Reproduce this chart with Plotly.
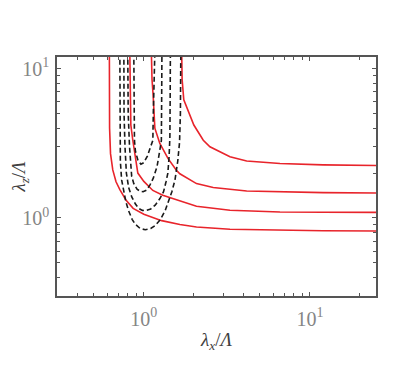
import plotly.graph_objects as go

# Courbes rouges (traits pleins)
red1_x = [0.62, 0.622, 0.63, 0.65, 0.68, 0.717, 0.78, 0.862, 1.0, 1.138, 1.28, 1.648, 2.075, 3.3, 6.6, 12.0, 25.0]
red1_y = [13.0, 4.0, 2.7, 2.1, 1.75, 1.55, 1.32, 1.16, 1.06, 1.0, 0.96, 0.905, 0.87, 0.84, 0.827, 0.822, 0.818]

red2_x = [0.823, 0.826, 0.835, 0.858, 0.89, 0.92, 1.0, 1.133, 1.3, 1.62, 2.075, 3.3, 6.6, 12.0, 25.0]
red2_y = [13.0, 6.0, 4.2, 3.32, 2.45, 2.0, 1.76, 1.53, 1.42, 1.31, 1.2, 1.126, 1.097, 1.093, 1.09]

red3_x = [1.11, 1.12, 1.138, 1.165, 1.248, 1.4, 1.57, 1.648, 2.075, 2.616, 4.16, 6.6, 12.0, 25.0]
red3_y = [13.0, 8.5, 6.6, 4.0, 3.16, 2.5, 2.09, 1.98, 1.7, 1.6, 1.517, 1.494, 1.48, 1.47]

red4_x = [1.69, 1.7, 1.74, 2.0, 2.28, 2.5, 3.3, 4.16, 6.6, 12.0, 25.0]
red4_y = [13.0, 8.5, 6.2, 4.2, 3.32, 3.0, 2.57, 2.41, 2.32, 2.27, 2.25]

# Courbes noires (tirets)
dash1_x = [0.717, 0.718, 0.722, 0.735, 0.755, 0.78, 0.809, 0.85, 0.886, 0.95, 1.02, 1.1, 1.17, 1.26, 1.344, 1.42, 1.475, 1.54, 1.6, 1.64, 1.66, 1.67]
dash1_y = [13.0, 4.0, 2.4, 1.8, 1.5, 1.28, 1.12, 0.98, 0.91, 0.85, 0.835, 0.85, 0.89, 0.98, 1.12, 1.33, 1.5, 1.8, 2.4, 3.2, 5.0, 13.0]

dash2_x = [0.758, 0.76, 0.77, 0.785, 0.81, 0.847, 0.89, 0.93, 0.98, 1.02, 1.1, 1.17, 1.25, 1.314, 1.36, 1.395, 1.42, 1.435, 1.44, 1.445]
dash2_y = [13.0, 5.0, 3.0, 2.0, 1.6, 1.38, 1.24, 1.16, 1.125, 1.12, 1.15, 1.22, 1.35, 1.5, 1.75, 2.0, 2.6, 3.5, 6.0, 13.0]

dash3_x = [0.80, 0.805, 0.82, 0.835, 0.845, 0.87, 0.91, 0.95, 0.99, 1.04, 1.087, 1.14, 1.2, 1.245, 1.275, 1.28, 1.285]
dash3_y = [13.0, 5.0, 3.0, 2.3, 1.9, 1.7, 1.56, 1.51, 1.5, 1.54, 1.66, 1.85, 2.2, 2.8, 3.3, 6.0, 13.0]

dash4_x = [0.87, 0.872, 0.878, 0.89, 0.92, 0.96, 1.0, 1.05, 1.1, 1.133, 1.14, 1.165]
dash4_y = [13.0, 5.0, 3.3, 2.8, 2.45, 2.29, 2.35, 2.6, 3.0, 3.32, 5.0, 13.0]

x_ticks = [1, 10]
x_ticktext = ["10<sup>0</sup>", "10<sup>1</sup>"]
y_ticks = [1, 10]
y_ticktext = ["10<sup>0</sup>", "10<sup>1</sup>"]
minor_ticks = [0.3, 0.4, 0.5, 0.6, 0.7, 0.8, 0.9, 2, 3, 4, 5, 6, 7, 8, 9, 20]

fig = go.Figure()

for xs, ys in [(red1_x, red1_y), (red2_x, red2_y), (red3_x, red3_y), (red4_x, red4_y)]:
    fig.add_trace(go.Scatter(x=xs, y=ys, mode='lines',
                             line=dict(color='#e8242b', width=1.6)))

for xs, ys in [(dash1_x, dash1_y), (dash2_x, dash2_y), (dash3_x, dash3_y), (dash4_x, dash4_y)]:
    fig.add_trace(go.Scatter(x=xs, y=ys, mode='lines',
                             line=dict(color='#1a1a1a', width=1.6, dash='5px,3px')))

axis_style = dict(
    type='log',
    automargin=False,
    showgrid=False,
    zeroline=False,
    showline=True,
    linecolor='#555555',
    linewidth=1.5,
    mirror='ticks',
    ticks='inside',
    ticklen=4,
    tickwidth=1.2,
    tickcolor='#555555',
    tickfont=dict(family='Liberation Serif', size=20, color='#858585'),
    minor=dict(ticks='inside', ticklen=3, tickwidth=1.2, tickcolor='#555555', tickvals=minor_ticks),
)

# la page html ajoute une marge de 8px autour de la figure
fig.update_layout(
    width=407, height=357,
    showlegend=False,
    plot_bgcolor='white',
    paper_bgcolor='white',
    margin=dict(l=49, r=39, t=49, b=69),
    xaxis=dict(axis_style, range=[-0.5229, 1.3979], tickvals=x_ticks, ticktext=x_ticktext,
               ticklabelstandoff=4,
               title=dict(text='<i>λ<sub>x</sub></i>/<i>Λ</i>', standoff=4,
                          font=dict(family='Liberation Serif', size=19, color='#404040'))),
    yaxis=dict(axis_style, range=[-0.5229, 1.0792], tickvals=y_ticks, ticktext=y_ticktext,
               ticklabelstandoff=2,
               title=dict(text='<i>λ<sub>z</sub></i>/<i>Λ</i>', standoff=14,
                          font=dict(family='Liberation Serif', size=19, color='#404040'))),
)

fig.write_html("out.html")
